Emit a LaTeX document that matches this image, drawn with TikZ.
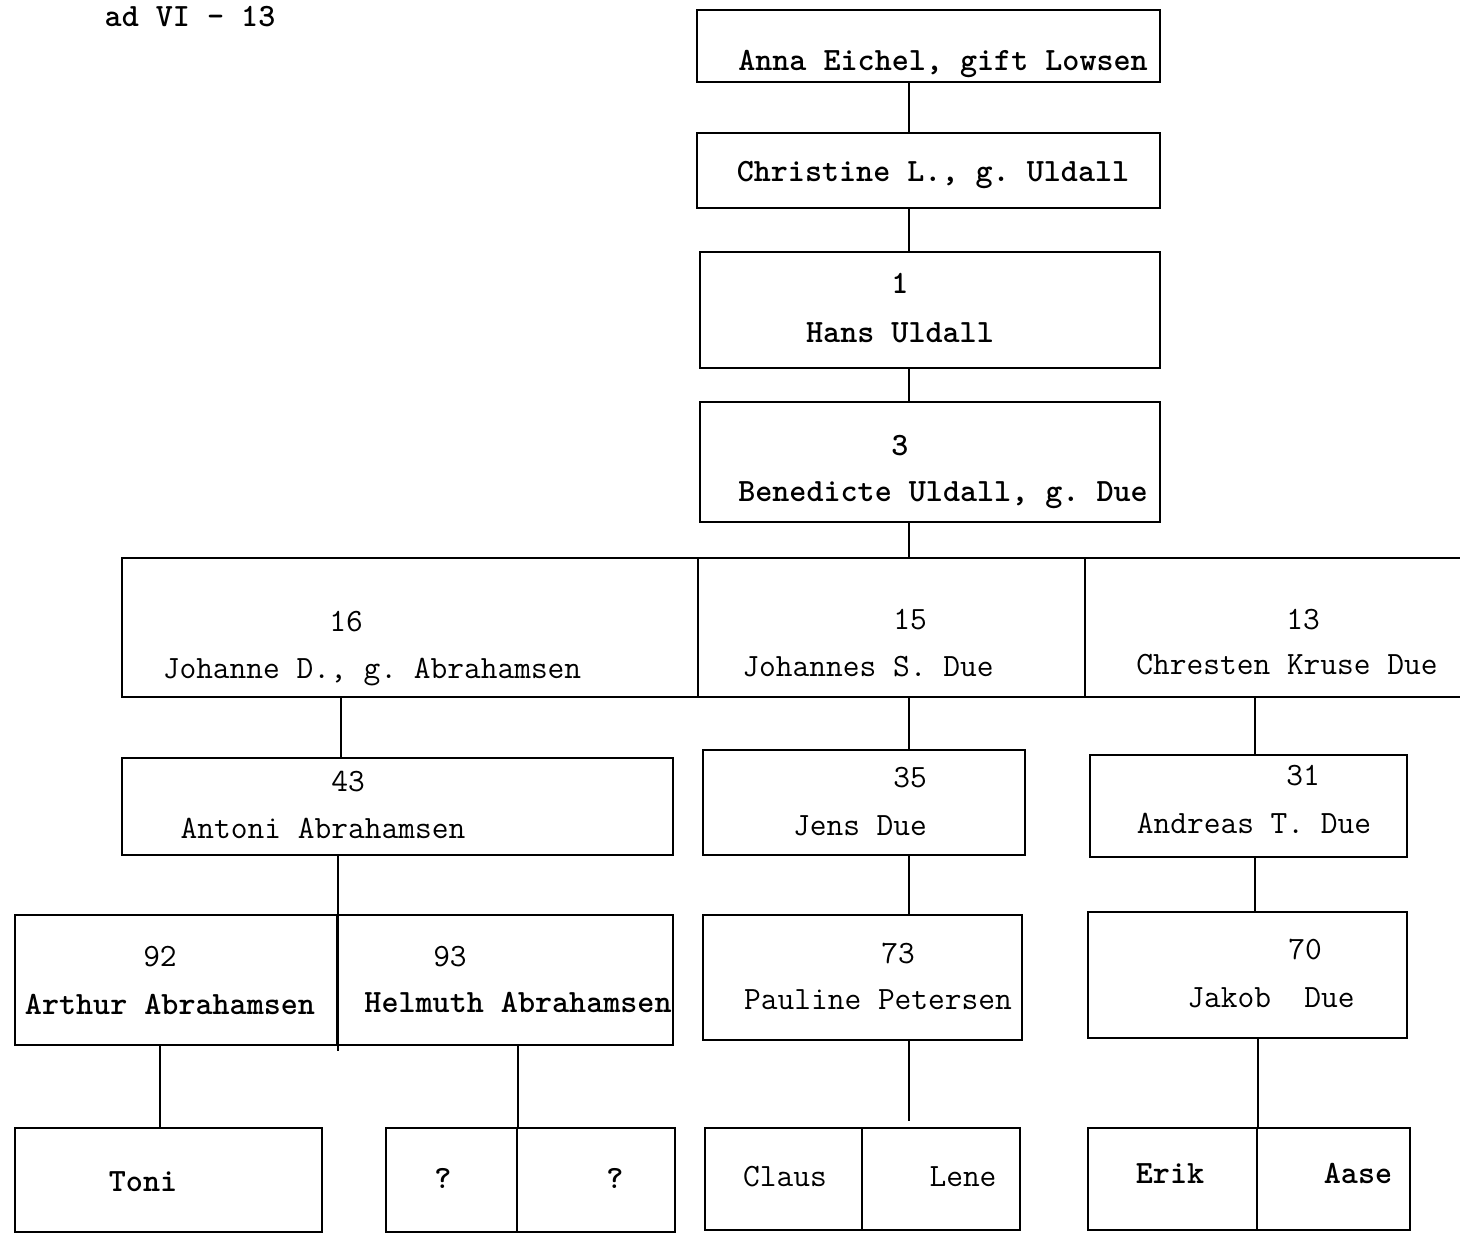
\documentclass[tikz,border=0pt]{standalone}
\usepackage{fontspec}
\frenchspacing
\tikzset{
  cell/.style={draw, line width=2.4pt, inner sep=0pt},
  link/.style={line width=2.2pt},
  typed/.style={inner sep=0pt, text height=20pt, text depth=4pt,
    font=\fontsize{32.5}{36}\selectfont\ttfamily},
  heavy/.style={typed, font=\fontsize{32.5}{36}\selectfont\ttfamily\bfseries}
}
\begin{document}
\begin{tikzpicture}[x=1pt, y=-1pt]
    \useasboundingbox (0,0) rectangle (1460,1234);

    % Heading
    \node[heavy] (head) at (190,18) {ad VI - 13};

    % Line of descent
    \node[cell, minimum width=463, minimum height=72] (anna) at (928.5,46) {};
    \node[cell, minimum width=463, minimum height=75] (chris) at (928.5,170.5) {};
    \node[cell, minimum width=460, minimum height=116] (hans) at (930,310) {};
    \node[cell, minimum width=460, minimum height=120] (bene) at (930,462) {};
    \node[heavy] (annaT) at (943,62) {Anna Eichel, gift Lowsen};
    \node[heavy] (chrisT) at (933,173) {Christine L., g. Uldall};
    \node[heavy] (hansN) at (900,285) {1};
    \node[heavy] (hansT) at (900,334) {Hans Uldall};
    \node[heavy] (beneN) at (900,447) {3};
    \node[heavy] (beneT) at (943,493) {Benedicte Uldall, g. Due};

    % Children of Benedicte
    \node[cell, minimum width=576, minimum height=139] (johanne) at (410,627.5) {};
    \node[cell, minimum width=387, minimum height=139] (johannes) at (891.5,627.5) {};
    \node[cell, minimum width=385, minimum height=139] (chresten) at (1277.5,627.5) {};
    \node[typed] (johanneN) at (346,623) {16};
    \node[typed] (johanneT) at (372,670) {Johanne D., g. Abrahamsen};
    \node[typed] (johannesN) at (910,621) {15};
    \node[typed] (johannesT) at (868,668) {Johannes S. Due};
    \node[typed] (chrestenN) at (1303,621) {13};
    \node[typed] (chrestenT) at (1287,666) {Chresten Kruse Due};

    % Third row
    \node[cell, minimum width=551, minimum height=97] (antoni) at (397.5,806.5) {};
    \node[cell, minimum width=322, minimum height=105] (jens) at (864,802.5) {};
    \node[cell, minimum width=317, minimum height=102] (andreas) at (1248.5,806) {};
    \node[typed] (antoniN) at (348,783) {43};
    \node[typed] (antoniT) at (323,830) {Antoni Abrahamsen};
    \node[typed] (jensN) at (910,779) {35};
    \node[typed] (jensT) at (860,827) {Jens Due};
    \node[typed] (andreasN) at (1303,777) {31};
    \node[typed] (andreasT) at (1254,825) {Andreas T. Due};

    % Fourth row
    \node[cell, minimum width=322, minimum height=130] (arthur) at (176,980) {};
    \node[cell, minimum width=336, minimum height=130] (helmuth) at (505,980) {};
    \node[cell, minimum width=319, minimum height=125] (pauline) at (862.5,977.5) {};
    \node[cell, minimum width=319, minimum height=126] (jakob) at (1247.5,975) {};
    \node[typed] (arthurN) at (160,958) {92};
    \node[heavy] (arthurT) at (170,1006) {Arthur Abrahamsen};
    \node[typed] (helmuthN) at (450,958) {93};
    \node[heavy] (helmuthT) at (518,1004) {Helmuth Abrahamsen};
    \node[typed] (paulineN) at (898,955) {73};
    \node[typed] (paulineT) at (878,1001) {Pauline Petersen};
    \node[typed] (jakobN) at (1305,951) {70};
    \node[typed] (jakobT) at (1271,999) {Jakob\ \ Due};

    % Bottom row
    \node[cell, minimum width=307, minimum height=104] (toni) at (168.5,1180) {};
    \node[cell, minimum width=131, minimum height=104] (qa) at (451.5,1180) {};
    \node[cell, minimum width=158, minimum height=104] (qb) at (596,1180) {};
    \node[cell, minimum width=157, minimum height=102] (claus) at (783.5,1179) {};
    \node[cell, minimum width=158, minimum height=102] (lene) at (941,1179) {};
    \node[cell, minimum width=169, minimum height=102] (erik) at (1172.5,1179) {};
    \node[cell, minimum width=153, minimum height=102] (aase) at (1333.5,1179) {};
    \node[heavy] (toniT) at (143,1183) {Toni};
    \node[heavy] (qaT) at (443,1180) {?};
    \node[heavy] (qbT) at (615,1180) {?};
    \node[typed] (clausT) at (785,1178) {Claus};
    \node[typed] (leneT) at (963,1178) {Lene};
    \node[heavy] (erikT) at (1170,1175) {Erik};
    \node[heavy] (aaseT) at (1358,1175) {Aase};

    % Connector columns
    \coordinate (mid) at (909,0);
    \coordinate (left) at (341,0);
    \coordinate (right) at (1255,0);
    \coordinate (toniX) at (160,0);

    \draw[link] (anna.south -| mid) -- (chris.north -| mid);
    \draw[link] (chris.south -| mid) -- (hans.north -| mid);
    \draw[link] (hans.south -| mid) -- (bene.north -| mid);
    \draw[link] (bene.south -| mid) -- (johannes.north -| mid);
    \draw[link] (johanne.south -| left) -- (antoni.north -| left);
    \draw[link] (johannes.south -| mid) -- (jens.north -| mid);
    \draw[link] (chresten.south -| right) -- (andreas.north -| right);
    \draw[link] (antoni.south -| arthur.east) -- ([yshift=-5pt]arthur.south east);
    \draw[link] (jens.south -| mid) -- (pauline.north -| mid);
    \draw[link] (andreas.south -| right) -- (jakob.north -| right);
    \draw[link] (arthur.south -| toniX) -- (toni.north -| toniX);
    \draw[link] (helmuth.south -| qa.east) -- (qa.north east);
    \draw[link] (pauline.south -| mid) -- ([yshift=6pt]claus.north -| mid);
    \draw[link] (jakob.south -| erik.east) -- (erik.north east);
\end{tikzpicture}
\end{document}
